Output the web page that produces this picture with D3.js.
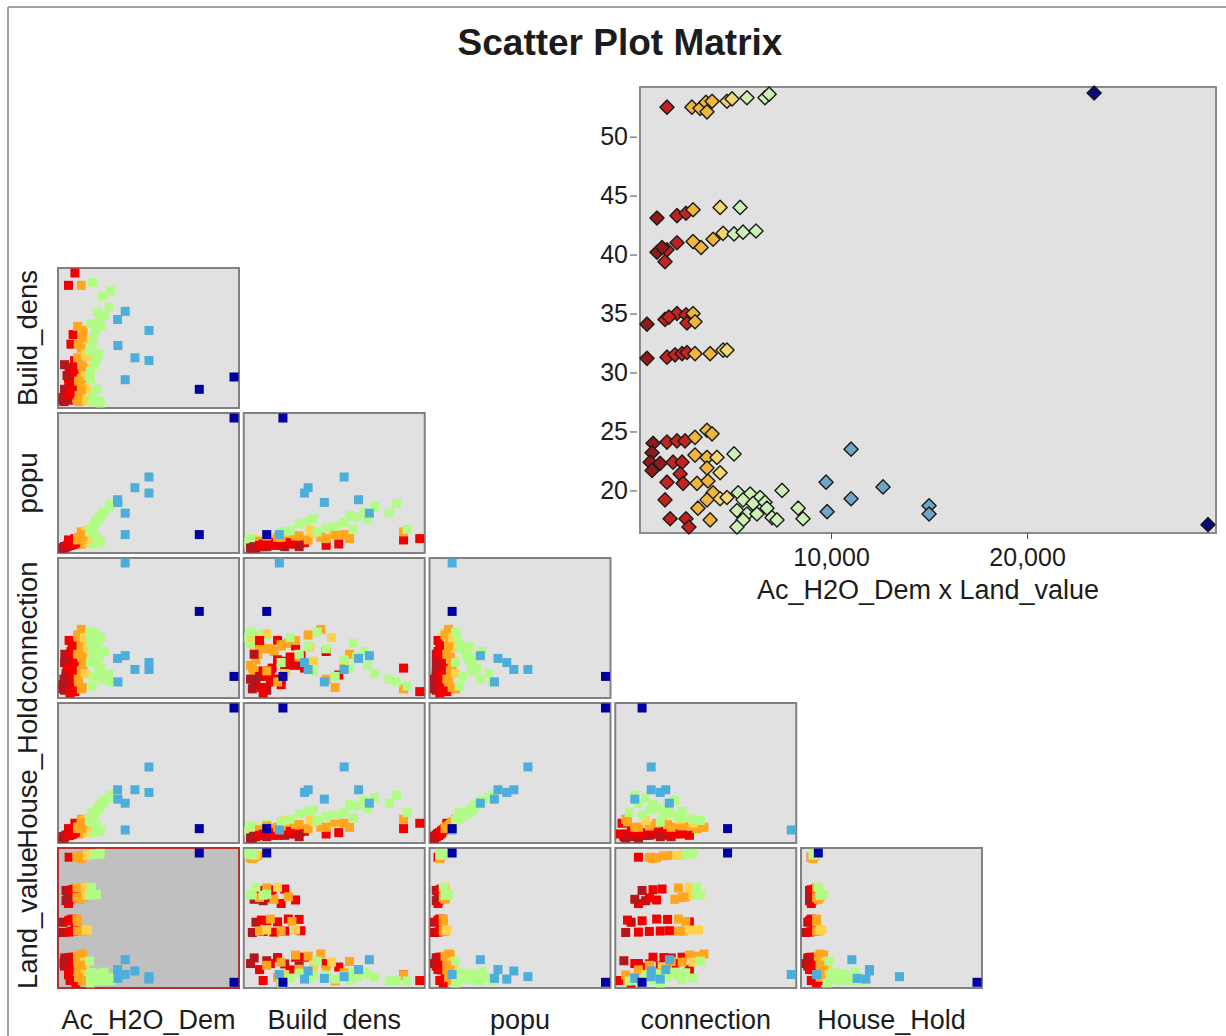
<!DOCTYPE html>
<html>
<head>
<meta charset="utf-8">
<script src="https://cdn.jsdelivr.net/npm/d3@7"></script>
<style>
  html, body { margin: 0; padding: 0; background: #fff; }
  svg { display: block; }
  text { font-family: "Liberation Sans", Arial, sans-serif; fill: #1c1c1c; }
</style>
</head>
<body>
<svg id="chart" width="1226" height="1036"></svg>
<script>
// one entry per parcel; bands follow the Land_value groups seen in the big plot
const acH2ODem = [
  1630, 2900, 3320, 3620, 3670, 3930, 4690, 4950, 5710, 6630, 6840,
  1120, 2140, 2600, 2960, 4340, 5360,
  1120, 1530, 1630, 2140, 1380, 2960, 3370, 3980, 4490, 5050, 5510, 6170,
  610, 1530, 2140, 2600, 2650, 1730, 2960, 3060,
  610, 1630, 2040, 2400, 2650, 3060, 3830, 4490, 4690,
  920, 1630, 2140, 2550, 870, 770, 1280, 1940, 2400, 870, 2300, 1630, 2450, 1530, 1790, 2600, 2750,
  3060, 3670, 3930, 3060, 3670, 4180, 4340, 3670, 3160, 3720, 3980, 3670, 4340, 4690, 3210, 3830,
  5050, 5260, 5870, 6380, 5510, 6020, 6630, 6730, 5200, 5710, 6220, 6990, 7240, 5510, 5200, 7500, 8320, 8570,
  11020, 9745, 12650, 11020, 9800, 15000, 15000,
  23420, 29230
];
const landValue = [
  52.5, 52.5, 52.4, 52.9, 52.1, 53.0, 53.0, 53.2, 53.3, 53.3, 53.6,
  43.1, 43.3, 43.5, 43.8, 44.0, 44.0,
  40.2, 39.4, 40.4, 41.0, 40.6, 41.1, 40.6, 41.3, 41.8, 41.75, 41.9, 42.0,
  34.1, 34.5, 35.0, 34.9, 34.2, 34.7, 35.0, 34.3,
  31.2, 31.3, 31.5, 31.6, 31.7, 31.6, 31.6, 31.9, 31.9,
  24.0, 24.1, 24.2, 24.2, 23.2, 22.4, 22.3, 22.4, 22.4, 21.7, 21.4, 20.7, 20.6, 19.2, 17.6, 17.6, 16.9,
  24.5, 25.1, 24.8, 23.0, 22.8, 22.8, 21.5, 21.9, 20.6, 20.8, 19.8, 19.2, 19.3, 19.4, 18.5, 17.5,
  23.1, 19.8, 19.7, 19.4, 19.2, 18.9, 19.0, 18.5, 18.3, 18.0, 18.0, 17.7, 17.5, 17.5, 16.9, 20.0, 18.5, 17.6,
  23.5, 20.7, 20.3, 19.3, 18.2, 18.7, 18.0,
  53.7, 17.1
];
const buildDens = [
  4, 5, 3, 6, 4, 7, 5, 6, 3, 4, 2,
  8, 15, 22, 12, 18, 6,
  10, 20, 28, 14, 5, 8, 16, 24, 4, 10, 3, 12,
  6, 12, 24, 30, 18, 9, 14, 26,
  4, 16, 10, 22, 31, 8, 20, 12, 28,
  5, 18, 28, 33, 12, 3, 22, 45, 14, 30, 52, 8, 25, 88, 10, 97, 20,
  35, 42, 28, 58, 20, 48, 38, 12, 45, 30, 55, 88, 22, 36, 18, 50,
  40, 60, 30, 68, 45, 55, 38, 62, 25, 50, 35, 58, 80, 90, 20, 66, 72, 84,
  69, 63, 35, 19, 44, 55, 33,
  12, 21
];
const popu = [
  2, 3, 3, 4, 3, 4, 4, 5, 3, 5, 4,
  1, 3, 4, 5, 6, 5,
  1, 2, 3, 4, 2, 5, 6, 6, 7, 6, 7, 8,
  0, 2, 3, 4, 4, 2, 5, 5,
  0, 2, 3, 3, 4, 5, 6, 7, 7,
  1, 2, 3, 4, 1, 0, 1, 2, 4, 1, 3, 2, 4, 6, 3, 7, 5,
  6, 8, 9, 7, 8, 10, 11, 9, 7, 9, 10, 12, 12, 13, 8, 10,
  12, 14, 18, 21, 15, 19, 22, 23, 13, 16, 20, 24, 26, 14, 12, 27, 31, 33,
  26, 36, 45, 10, 34, 53, 41,
  10, 97
];
const connection = [
  12, 18, 22, 26, 20, 30, 33, 36, 38, 40, 42,
  14, 20, 25, 34, 40, 44,
  16, 12, 22, 18, 10, 36, 32, 38, 42, 45, 46, 44,
  8, 14, 22, 28, 40, 6, 34, 38,
  5, 12, 18, 24, 29, 34, 37, 45, 40,
  30, 26, 36, 20, 4, 12, 18, 32, 10, 24, 15, 40, 28, 20, 2, 3, 8,
  44, 48, 40, 30, 36, 42, 25, 18, 12, 28, 22, 5, 16, 35, 10, 6,
  46, 38, 30, 22, 34, 26, 18, 28, 42, 14, 36, 20, 12, 7, 24, 32, 16, 10,
  29, 27, 19, 96, 10, 19, 24,
  61, 14
];
const houseHold = [
  3, 4, 3, 5, 4, 5, 4, 5, 4, 6, 5,
  2, 3, 5, 6, 7, 7,
  2, 3, 4, 4, 2, 6, 7, 8, 8, 8, 9, 10,
  1, 2, 3, 4, 5, 3, 6, 6,
  0, 2, 3, 4, 5, 6, 7, 8, 9,
  1, 2, 3, 5, 1, 0, 2, 3, 4, 1, 4, 2, 5, 7, 3, 11, 6,
  7, 8, 10, 8, 9, 11, 12, 9, 8, 10, 11, 14, 13, 14, 8, 12,
  13, 15, 18, 22, 16, 19, 21, 24, 14, 17, 20, 25, 26, 19, 12, 28, 30, 32,
  26, 36, 36, 6, 29, 53, 34,
  7, 97
];

const classBreaks = [1400, 2800, 4000, 5000, 9000, 16000];
const matrixColors = ['#b3161c', '#f20000', '#ffa51e', '#ffd24a', '#b2fb86', '#4eaedb', '#0000a2'];
const plotColors = ['#901a1a', '#c22220', '#efb53c', '#f2d672', '#cdf0b6', '#6da6c8', '#0a0a7e'];
const colVars = ['Ac_H2O_Dem', 'Build_dens', 'popu', 'connection', 'House_Hold'];
const rowVars = ['Build_dens', 'popu', 'connection', 'House_Hold', 'Land_value'];
const xTicks = [10000, 20000];
const yTicks = [20, 25, 30, 35, 40, 45, 50];

const data = acH2ODem.map((ac, i) => ({
  Ac_H2O_Dem: ac,
  Build_dens: buildDens[i],
  popu: popu[i],
  connection: connection[i],
  House_Hold: houseHold[i],
  Land_value: landValue[i]
}));

const svg = d3.select('#chart');
const matrixColor = d3.scaleThreshold().domain(classBreaks).range(matrixColors);
const plotColor = d3.scaleThreshold().domain(classBreaks).range(plotColors);

// frame + title
svg.append('line').attr('x1', 8).attr('x2', 1226).attr('y1', 7).attr('y2', 7).attr('stroke', '#a3a3a3').attr('stroke-width', 2);
svg.append('line').attr('x1', 8).attr('x2', 8).attr('y1', 7).attr('y2', 1036).attr('stroke', '#a3a3a3').attr('stroke-width', 2);
svg.append('text').attr('x', 620).attr('y', 55).attr('text-anchor', 'middle')
  .style('font-size', '37px').style('font-weight', 'bold').text('Scatter Plot Matrix');

// matrix layout
const cellW = 181, cellH = 140, pad = 5;
const cellX = d3.scaleLinear().domain([0, 4]).range([58, 801]);
const cellY = d3.scaleLinear().domain([0, 4]).range([268, 848]);

rowVars.forEach((rv, r) => {
  colVars.forEach((cv, c) => {
    if (c > r) return;
    const x0 = cellX(c), y0 = cellY(r);
    const selected = cv === 'Ac_H2O_Dem' && rv === 'Land_value';
    const g = svg.append('g').attr('class', 'cell');
    g.append('rect').attr('x', x0).attr('y', y0).attr('width', cellW).attr('height', cellH)
      .attr('fill', selected ? '#c0c0c0' : '#e1e1e1')
      .attr('stroke', selected ? '#b6302c' : '#818181').attr('stroke-width', 2);
    const xs = d3.scaleLinear().domain(d3.extent(data, (d) => d[cv])).range([x0 + pad, x0 + cellW - pad]);
    const ys = d3.scaleLinear().domain(d3.extent(data, (d) => d[rv])).range([y0 + cellH - pad, y0 + pad]);
    g.selectAll('.pt').data(data).enter().append('rect').attr('class', 'pt')
      .attr('x', (d) => xs(d[cv]) - 4.5).attr('y', (d) => ys(d[rv]) - 4.5)
      .attr('width', 9).attr('height', 9)
      .attr('fill', (d) => matrixColor(d.Ac_H2O_Dem));
  });
});

rowVars.forEach((rv, r) => {
  svg.append('text').attr('transform', 'translate(37,' + (cellY(r) + cellH / 2) + ') rotate(-90)')
    .attr('text-anchor', 'middle').style('font-size', '27.5px').text(rv);
});
colVars.forEach((cv, c) => {
  svg.append('text').attr('x', cellX(c) + cellW / 2).attr('y', 1029)
    .attr('text-anchor', 'middle').style('font-size', '27px').text(cv);
});

// enlarged view of the selected pair
const big = { left: 640, right: 1216, top: 87, bottom: 533 };
const bx = d3.scaleLinear().domain(d3.extent(acH2ODem)).range([big.left + 7, big.right - 8]);
const by = d3.scaleLinear().domain(d3.extent(landValue)).range([big.bottom - 6, big.top + 6]);
const bg = svg.append('g').attr('class', 'big');
bg.append('rect').attr('x', big.left).attr('y', big.top)
  .attr('width', big.right - big.left).attr('height', big.bottom - big.top)
  .attr('fill', '#e1e1e1').attr('stroke', '#8a8a8a').attr('stroke-width', 2);

const yAxis = bg.append('g').attr('transform', 'translate(' + (big.left - 3) + ',0)')
  .call(d3.axisLeft(by).tickValues(yTicks).tickSize(7).tickPadding(2).tickFormat(d3.format('d')));
const xAxis = bg.append('g').attr('transform', 'translate(0,' + big.bottom + ')')
  .call(d3.axisBottom(bx).tickValues(xTicks).tickSize(6).tickPadding(9).tickFormat(d3.format(',')));
[yAxis, xAxis].forEach((a) => {
  a.select('.domain').remove();
  a.selectAll('line').attr('stroke', '#4a4a4a');
  a.selectAll('text').style('font-size', '25px').attr('fill', '#1c1c1c');
});
bg.append('text').attr('x', (big.left + big.right) / 2).attr('y', 599).attr('text-anchor', 'middle')
  .style('font-size', '27px').text('Ac_H2O_Dem x Land_value');

const diamond = {
  draw(ctx, size) {
    const r = Math.sqrt(size / 2);
    ctx.moveTo(0, -r); ctx.lineTo(r, 0); ctx.lineTo(0, r); ctx.lineTo(-r, 0); ctx.closePath();
  }
};
bg.selectAll('.dm').data(data).enter().append('path').attr('class', 'dm')
  .attr('transform', (d) => 'translate(' + bx(d.Ac_H2O_Dem) + ',' + by(d.Land_value) + ')')
  .attr('d', d3.symbol(diamond, 100))
  .attr('fill', (d) => plotColor(d.Ac_H2O_Dem))
  .attr('stroke', '#1a1a1a').attr('stroke-width', 1.4).attr('stroke-linejoin', 'round');
</script>
</body>
</html>
